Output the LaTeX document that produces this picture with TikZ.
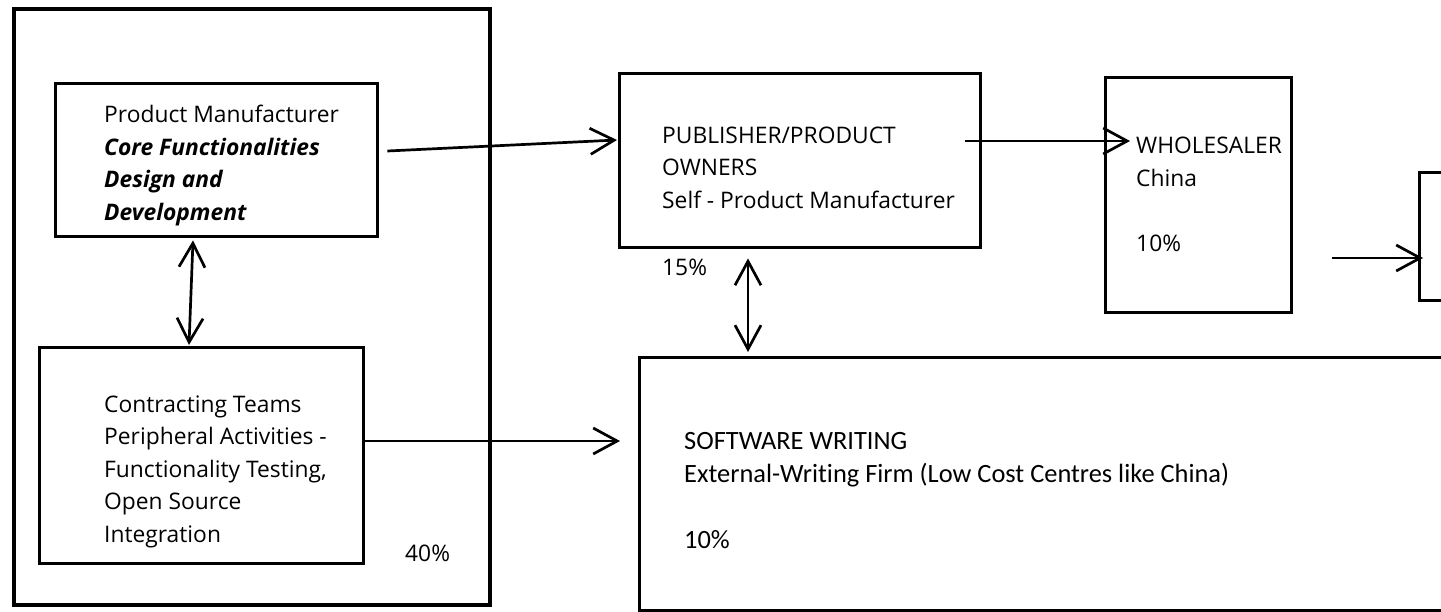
\documentclass[tikz,border=0pt]{standalone}
\usepackage{fontspec}
\setmainfont{Open Sans}
\newfontfamily\calfont[Ligatures=NoCommon]{Carlito}
\usetikzlibrary{arrows.meta,calc}

\begin{document}
\begin{tikzpicture}[x=1pt,y=-1pt,
  box/.style={
    draw,
    line width=3.4pt,
    inner sep=0pt,
    anchor=north west},
  txt/.style={
    align=left,
    anchor=base west,
    inner sep=0pt,
    font=\fontsize{22.8}{32.4}\selectfont},
  arr/.style={line width=2.7pt,
    -{Straight Barb[length=24pt,width=26pt]}},
  darr/.style={line width=2.7pt,
    {Straight Barb[length=24pt,width=26pt]}-{Straight Barb[length=24pt,width=26pt]}}
  ]
    \useasboundingbox (0,0) rectangle (1441,611);
    % boxes
    \node[box,line width=3.8pt,minimum width=476,minimum height=596](grp) at (12,7) {};
    \node[box,minimum width=322,minimum height=153](mf) at (54,82) {};
    \node[box,minimum width=324,minimum height=216](ct) at (38,346) {};
    \node[box,minimum width=361,minimum height=174](pub) at (618,72) {};
    \node[box,minimum width=186,minimum height=235](wh) at (1104,76) {};
    \node[box,minimum width=100,minimum height=128](rt) at (1418,171) {};
    \node[box,minimum width=870,minimum height=253](sw) at (638,356) {};
    % texts (anchored at the last line)
    \node[txt](mftxt) at ($(mf.north west)+(50,138)$)
      {Product Manufacturer\\\textbf{\textit{Core Functionalities}}\\
       \textbf{\textit{Design and}}\\\textbf{\textit{Development}}};
    \node[txt](cttxt) at ($(ct.north west)+(66,196)$)
      {Contracting Teams\\Peripheral Activities -\\Functionality Testing,\\
       Open Source\\Integration};
    \node[txt](grppct) at (405,561) {40\%};
    \node[txt](pubtxt) at ($(pub.north west)+(44,136)$)
      {PUBLISHER/PRODUCT\\OWNERS\\Self - Product Manufacturer};
    \node[txt](pubpct) at ($(pub.south west)+(44,26)$) {15\%};
    \node[txt](whtxt) at ($(wh.north west)+(32,175)$)
      {WHOLESALER\\China\\[32.4pt]10\%};
    \node[txt,font=\calfont\fontsize{26.4}{33}\selectfont](swtxt) at ($(sw.north west)+(46,192)$)
      {SOFTWARE WRITING\\External-Writing Firm (Low Cost Centres like China)\\[33pt]10\%};
    % connectors
    \draw[darr] ($(mf.south west)+(139,2)$)--($(ct.north west)+(151,-1)$);
    \draw[arr] ($(mf.north east)+(8,69)$)--($(pub.north west)+(-1,68)$);
    \draw[arr] ($(ct.north east)+(-2,95)$)--($(sw.north west)+(-18,85)$);
    \draw[darr] ($(pub.south west)+(130,9)$)--($(sw.north west)+(110,-4)$);
    \draw[arr] ($(pub.north east)+(-17,69)$)--($(wh.north west)+(26,65)$);
    \draw[arr] ($(wh.north east)+(39,182)$)--($(rt.north west)+(5,87)$);
\end{tikzpicture}
\end{document}
